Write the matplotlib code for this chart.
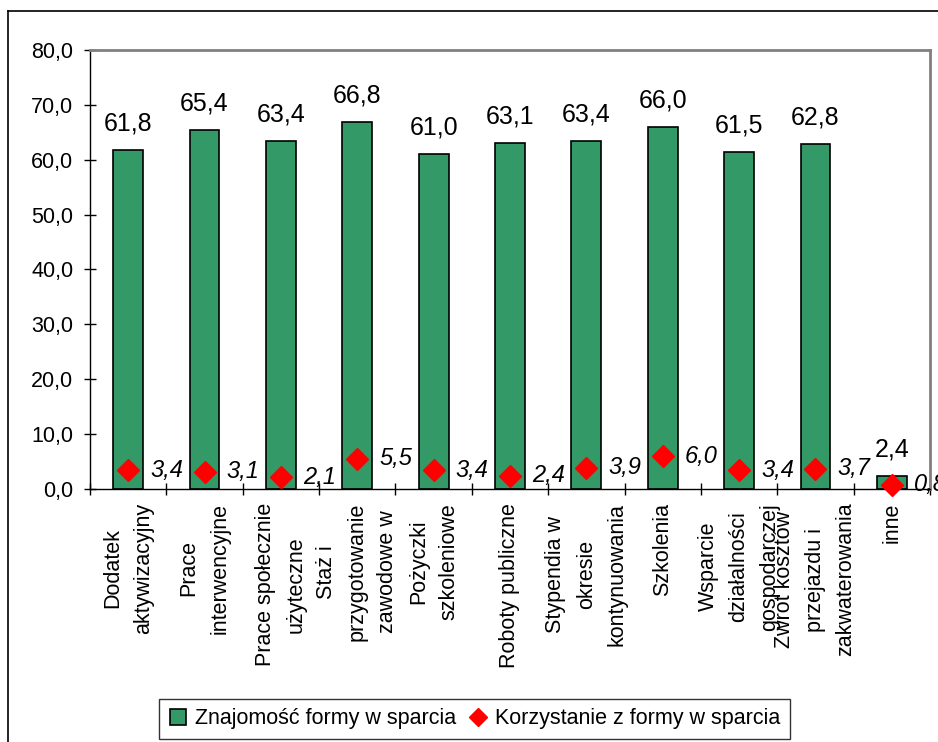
import matplotlib
matplotlib.use("Agg")
import matplotlib.pyplot as plt
from matplotlib.lines import Line2D
from matplotlib.ticker import FixedLocator, FuncFormatter

plt.rcParams["font.family"] = ["Liberation Sans", "DejaVu Sans"]

categories = [
    "Dodatek\naktywizacyjny",
    "Prace\ninterwencyjne",
    "Prace społecznie\nużyteczne",
    "Staż i\nprzygotowanie\nzawodowe w",
    "Pożyczki\nszkoleniowe",
    "Roboty publiczne",
    "Stypendia w\nokresie\nkontynuowania",
    "Szkolenia",
    "Wsparcie\ndziałalności\ngospodarczej",
    "Zwrot kosztów\nprzejazdu i\nzakwaterowania",
    "inne",
]
znajomosc = [61.8, 65.4, 63.4, 66.8, 61.0, 63.1, 63.4, 66.0, 61.5, 62.8, 2.4]
korzystanie = [3.4, 3.1, 2.1, 5.5, 3.4, 2.4, 3.9, 6.0, 3.4, 3.7, 0.8]
y_ticks = [0, 10, 20, 30, 40, 50, 60, 70, 80]

green = "#339966"
red = "#FF0000"


def pl(v):
    return f"{v:.1f}".replace(".", ",")


fig = plt.figure(figsize=(9.38, 7.42), dpi=100)
ax = fig.add_axes([0.0959, 0.341, 0.8956, 0.5916])

x = list(range(len(categories)))
ax.bar(x, znajomosc, width=0.39, color=green, edgecolor="black", linewidth=1.2, zorder=2)
ax.plot(x, korzystanie, linestyle="none", marker="D", markersize=11,
        color=red, markeredgecolor=red, zorder=3, clip_on=False)

for xi, v in zip(x, znajomosc):
    ax.annotate(pl(v), (xi, v), xytext=(0, 14), textcoords="offset points",
                ha="center", va="baseline", fontsize=18)
for xi, v in zip(x, korzystanie):
    ax.annotate(pl(v), (xi, v), xytext=(16, 0), textcoords="offset points",
                ha="left", va="center", fontsize=17, style="italic",
                annotation_clip=False)

ax.set_xlim(-0.5, len(categories) - 0.5)
ax.set_ylim(0, 80)

# tick marks on the category boundaries, labels in the middle
ax.xaxis.set_major_locator(FixedLocator([i - 0.5 for i in range(len(categories) + 1)]))
ax.xaxis.set_major_formatter(FuncFormatter(lambda v, p: ""))
ax.xaxis.set_minor_locator(FixedLocator(x))
ax.set_xticklabels(categories, minor=True, rotation=90, fontsize=15.5,
                   ha="center", va="top", multialignment="center", linespacing=1.6)
ax.tick_params(axis="x", which="major", direction="inout", length=8, width=1)
ax.tick_params(axis="x", which="minor", length=0, pad=10)

ax.set_yticks(y_ticks)
ax.set_yticklabels([pl(v) for v in y_ticks], fontsize=15.5)
ax.tick_params(axis="y", direction="inout", length=8, width=1, pad=8)

for side in ["top", "right"]:
    ax.spines[side].set_color("#808080")
    ax.spines[side].set_linewidth(2)
for side in ["left", "bottom"]:
    ax.spines[side].set_color("black")
    ax.spines[side].set_linewidth(1)

handles = [
    Line2D([], [], linestyle="none", marker="s", markersize=11,
           markerfacecolor=green, markeredgecolor="black", markeredgewidth=1.2),
    Line2D([], [], linestyle="none", marker="D", markersize=9,
           markerfacecolor=red, markeredgecolor=red),
]
leg = fig.legend(handles, ["Znajomość formy w sparcia", "Korzystanie z formy w sparcia"],
                 loc="center", bbox_to_anchor=(0.506, 0.031), ncol=2,
                 fontsize=15.5, frameon=True, fancybox=False, handlelength=0.8,
                 handletextpad=0.4, columnspacing=0.6, borderpad=0.45)
leg.get_frame().set_edgecolor("black")
leg.get_frame().set_linewidth(1)

# outer frame (top and left edges only visible)
fig.add_artist(Line2D([8 / 938, 8 / 938], [0, 1 - 10.5 / 742], color="black", lw=1.2,
                      transform=fig.transFigure))
fig.add_artist(Line2D([8 / 938, 1], [1 - 10.5 / 742, 1 - 10.5 / 742], color="black", lw=1.2,
                      transform=fig.transFigure))

fig.savefig("out.png", dpi=100, facecolor="white")
